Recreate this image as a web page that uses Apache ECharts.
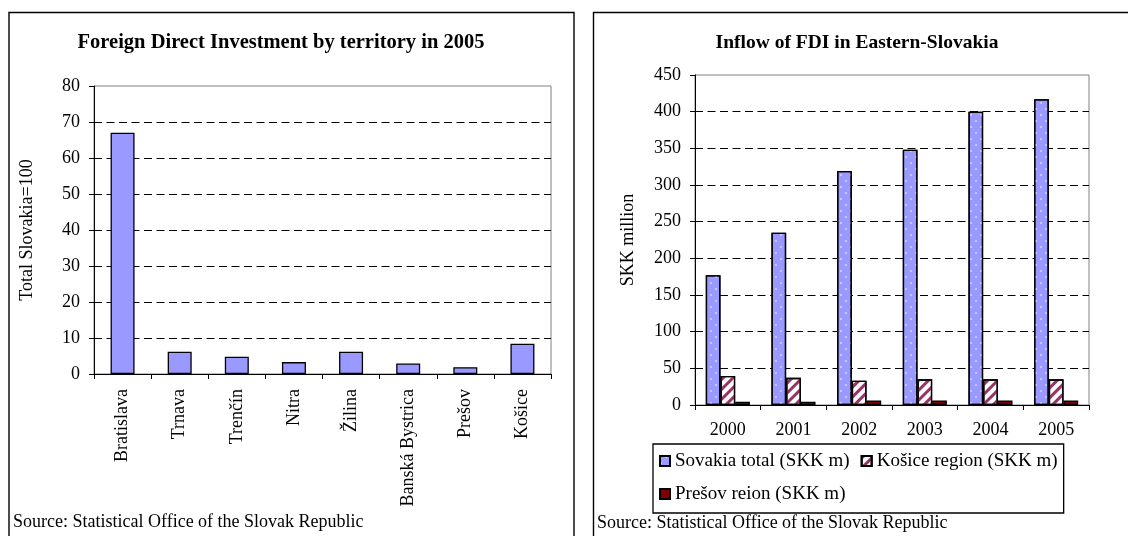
<!DOCTYPE html>
<html><head><meta charset="utf-8">
<script src="https://cdn.jsdelivr.net/npm/echarts@6/dist/echarts.min.js"></script>
<style>html,body{margin:0;padding:0;background:#fff}#c{width:1128px;height:536px}</style>
</head><body><div id="c"></div>
<script>
// ---- data ----
const regions = ['Bratislava', 'Trnava', 'Trenčín', 'Nitra', 'Žilina', 'Banská Bystrica', 'Prešov', 'Košice'];
const regionShare = [67, 6.2, 4.8, 3.3, 6.2, 2.9, 1.9, 8.4];
const years = ['2000', '2001', '2002', '2003', '2004', '2005'];
const slovakiaTotal = [177, 235, 319, 348, 400, 417];
const kosiceRegion = [39.5, 37, 33, 35, 35, 35];
const presovRegion = [4.5, 4.5, 6, 6, 6, 6];
const leftAxisRange = [0, 80, 10];
const rightAxisRange = [0, 450, 50];
const seriesNames = ['Sovakia total (SKK m)', 'Košice region (SKK m)', 'Prešov reion (SKK m)'];
const leftTitle = 'Foreign Direct Investment by territory in 2005';
const rightTitle = 'Inflow of FDI in Eastern-Slovakia';
const leftAxisName = 'Total Slovakia=100';
const rightAxisName = 'SKK million';
const sourceText = 'Source: Statistical Office of the Slovak Republic';

const F = "'Liberation Serif','Times New Roman',serif";
const chart = echarts.init(document.getElementById('c'), null, {renderer: 'canvas'});

function valueAxis(grid, range, name) {
  return {
    type: 'value', gridIndex: grid, min: range[0], max: range[1], interval: range[2],
    name: name, nameLocation: 'middle', nameGap: 58,
    nameTextStyle: {fontFamily: F, fontSize: 18, color: '#000'},
    axisLine: {show: true, lineStyle: {color: '#000', width: 1}},
    axisTick: {show: true, length: 5, lineStyle: {color: '#000'}},
    axisLabel: {margin: 14, fontFamily: F, fontSize: 18, color: '#000'},
    splitLine: {show: true, showMinLine: false, showMaxLine: false,
      lineStyle: {color: '#000', width: 1, type: [8, 4.5]}}
  };
}
function catAxis(grid, data, rotate, margin) {
  return {
    type: 'category', gridIndex: grid, data: data,
    axisLine: {show: true, lineStyle: {color: '#000', width: 1}},
    axisTick: {show: true, length: 5, lineStyle: {color: '#000'}},
    axisLabel: {rotate: rotate, margin: margin, fontFamily: F, fontSize: 18, color: '#000', interval: 0},
    splitLine: {show: false}
  };
}

const option = {
  animation: false,
  backgroundColor: '#fff',
  graphic: [
    {type: 'rect', shape: {x: 9, y: 12.5, width: 565, height: 540}, style: {fill: 'none', stroke: '#000', lineWidth: 1.4}},
    {type: 'rect', shape: {x: 593.5, y: 12.5, width: 560, height: 540}, style: {fill: 'none', stroke: '#000', lineWidth: 1.4}},
    {type: 'text', x: 281, y: 42.5, style: {text: leftTitle, font: 'bold 20.5px ' + F, fill: '#000', textAlign: 'center', textVerticalAlign: 'middle'}},
    {type: 'text', x: 857, y: 42.5, style: {text: rightTitle, font: 'bold 19.5px ' + F, fill: '#000', textAlign: 'center', textVerticalAlign: 'middle'}},
    {type: 'text', x: 13, y: 522, style: {text: sourceText, font: '18px ' + F, fill: '#000', textAlign: 'left', textVerticalAlign: 'middle'}},
    {type: 'text', x: 597, y: 523, style: {text: sourceText, font: '18px ' + F, fill: '#000', textAlign: 'left', textVerticalAlign: 'middle'}}
  ],
  grid: [
    {left: 94, top: 86, right: 577, bottom: 162, show: true, borderColor: '#808080', borderWidth: 1, containLabel: false},
    {left: 695, top: 75, right: 39, bottom: 131, show: true, borderColor: '#808080', borderWidth: 1, containLabel: false}
  ],
  xAxis: [catAxis(0, regions, 90, 15), catAxis(1, years, 0, 16)],
  yAxis: [valueAxis(0, leftAxisRange, leftAxisName), valueAxis(1, rightAxisRange, rightAxisName)],
  legend: {
    data: seriesNames, left: 653, top: 444, orient: 'horizontal', width: 400,
    itemWidth: 10, itemHeight: 10, itemGap: 11, padding: [6, 6, 8, 6],
    borderColor: '#000', borderWidth: 1.3, icon: 'rect', selectedMode: false,
    textStyle: {fontFamily: F, fontSize: 19, color: '#000', lineHeight: 22}
  },
  series: [
    {type: 'bar', xAxisIndex: 0, yAxisIndex: 0, data: regionShare, barWidth: 24,
      itemStyle: {color: '#9999FF', borderColor: '#000', borderWidth: 1.3}},
    {type: 'bar', name: seriesNames[0], xAxisIndex: 1, yAxisIndex: 1, data: slovakiaTotal, barWidth: 14.7, barGap: '0%',
      itemStyle: {color: '#9999FF', borderColor: '#000', borderWidth: 1.3,
        decal: {symbol: 'circle', symbolSize: 0.8, color: '#ffffff', dashArrayX: [[2, 8], [0, 5, 2, 3]], dashArrayY: [2, 4]}}},
    {type: 'bar', name: seriesNames[1], xAxisIndex: 1, yAxisIndex: 1, data: kosiceRegion, barWidth: 14.7, barGap: '0%',
      itemStyle: {color: '#ffffff', borderColor: '#000', borderWidth: 1.3,
        decal: {symbol: 'rect', symbolSize: 1, color: '#993366', dashArrayX: [1, 0], dashArrayY: [3, 4], rotation: -Math.PI / 4}}},
    {type: 'bar', name: seriesNames[2], xAxisIndex: 1, yAxisIndex: 1, data: presovRegion, barWidth: 14.7, barGap: '0%',
      itemStyle: {color: '#800000', borderColor: '#000', borderWidth: 1.3}}
  ]
};
chart.setOption(option);
</script></body></html>
